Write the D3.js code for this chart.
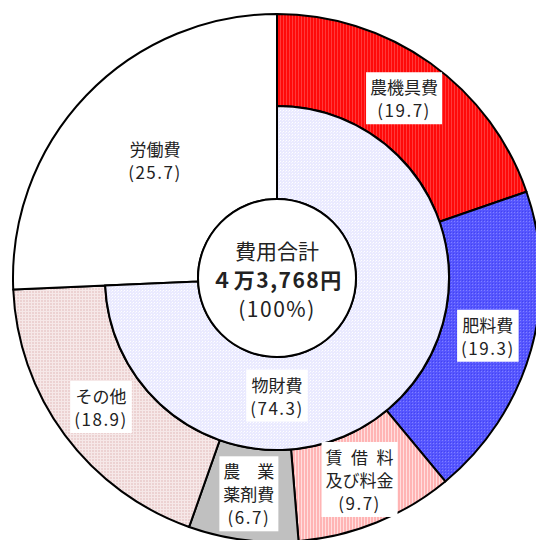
<!DOCTYPE html>
<html>
<head>
<meta charset="utf-8">
<script src="https://cdn.jsdelivr.net/npm/d3@7"></script>
<style>
  body { margin: 0; background: #fff; }
  svg { display: block; }
  text { font-family: "Noto Sans CJK JP", "Noto Sans", sans-serif; fill: #222; }
</style>
</head>
<body>
<script>
// outer ring: breakdown of costs (%)
var categories = ["農機具費", "肥料費", "賃借料及び料金", "農業薬剤費", "その他", "労働費"];
var values = [19.7, 19.3, 9.7, 6.7, 18.9, 25.7];
var labelLines = [
  ["農機具費", "(19.7)"],
  ["肥料費", "(19.3)"],
  ["賃借料", "及び料金", "(9.7)"],
  ["農業", "薬剤費", "(6.7)"],
  ["その他", "(18.9)"],
  ["労働費", "(25.7)"]
];
// inner ring
var innerCategories = ["物財費", "労働費"];
var innerValues = [74.3, 25.7];
// centre
var centerLines = ["費用合計", "４万3,768円", "(100%)"];

var W = 536, H = 540;
var cx = 277, cy = 278;
var rOuter = 264, rMid = 172, rInner = 79;

var svg = d3.select("body").append("svg")
    .attr("width", W)
    .attr("height", H);

// fill textures
var defs = svg.append("defs");
function pattern(id, base, dots) {
  var p = defs.append("pattern")
      .attr("id", id)
      .attr("patternUnits", "userSpaceOnUse")
      .attr("width", 3).attr("height", 3);
  p.append("rect").attr("width", 3).attr("height", 3).attr("fill", base);
  dots.forEach(function(d) {
    p.append("rect").attr("x", d[0]).attr("y", d[1])
      .attr("width", d[2]).attr("height", d[3]).attr("fill", d[4]);
  });
}
pattern("pRed", "#ff0a0a", [[0, 0, 1, 3, "#ff3a3a"]]);
pattern("pBlue", "#5656ff", [[0, 0, 1, 1, "#8080ff"], [2, 2, 1, 1, "#4444f0"]]);
pattern("pPink", "#ffb4b4", [[0, 0, 1, 3, "#ffdede"]]);
pattern("pGray", "#c0c0c0", []);
pattern("pOther", "#ecd2d2", [[0, 0, 3, 1, "#f6e8e8"], [0, 0, 1, 3, "#f6e8e8"]]);
pattern("pMat", "#eaeaff", [[0, 0, 1, 1, "#ffffff"], [2, 1, 1, 1, "#f6f6ff"]]);

var fills = ["url(#pRed)", "url(#pBlue)", "url(#pPink)", "url(#pGray)", "url(#pOther)", "#ffffff"];

var g = svg.append("g").attr("transform", "translate(" + cx + "," + cy + ")");

var pie = d3.pie().sort(null).value(function(d) { return d; });
var outerArcs = pie(values);
var innerArcs = pie(innerValues);

var arcFor = function(d, i) {
  // labour cost fills both rings
  var ir = categories[i] === "労働費" ? rInner : rMid;
  return d3.arc().innerRadius(ir).outerRadius(rOuter)(d);
};

g.selectAll("path.outer")
  .data(outerArcs)
  .enter()
  .append("path")
    .attr("class", "outer")
    .attr("d", arcFor)
    .attr("fill", function(d, i) { return fills[i]; })
    .attr("stroke", "#000")
    .attr("stroke-width", 2)
    .attr("stroke-linejoin", "round");

// inner ring: material costs
var innerArc = d3.arc().innerRadius(rInner).outerRadius(rMid);
g.append("path")
    .attr("d", innerArc(innerArcs[0]))
    .attr("fill", "url(#pMat)")
    .attr("stroke", "#000")
    .attr("stroke-width", 2);

// centre circle
g.append("circle")
    .attr("r", rInner)
    .attr("fill", "#fff")
    .attr("stroke", "#000")
    .attr("stroke-width", 2);

var lineH = 23;
function drawLabel(lines, x, y, boxed) {
  var lg = g.append("g").attr("transform", "translate(" + x + "," + y + ")");
  var y0 = -(lines.length - 1) * lineH / 2;
  var t = lg.append("text")
      .attr("text-anchor", "middle")
      .style("font-size", "17px");
  var maxChars = d3.max(lines, function(s) { return s.length; });
  lines.forEach(function(s, k) {
    var ts = t.append("tspan")
        .attr("x", 0)
        .attr("y", y0 + k * lineH)
        .attr("dy", "0.36em")
        .text(s);
    if (s.charAt(0) === "(") ts.style("letter-spacing", "1.5px");
    // short first line spread to the width of the next line
    if (k === 0 && lines.length === 3 && s.length < maxChars) {
      ts.attr("textLength", lines[1].length * 17).attr("lengthAdjust", "spacing");
    }
  });
  if (boxed) {
    var bb = t.node().getBBox();
    lg.insert("rect", "text")
      .attr("x", bb.x - 4)
      .attr("y", bb.y - 2)
      .attr("width", bb.width + 8)
      .attr("height", bb.height + 4)
      .attr("fill", "#fff");
  }
}

var labelArc = d3.arc().innerRadius(174).outerRadius(264);
var labourArc = d3.arc().innerRadius(rInner).outerRadius(259);
outerArcs.forEach(function(d, i) {
  var isLabour = categories[i] === "労働費";
  var c = isLabour ? labourArc.centroid(d) : labelArc.centroid(d);
  drawLabel(labelLines[i], c[0], c[1], !isLabour);
});

// material cost label sits at the bottom of the inner ring
var matAngle = Math.PI;
var matR = 119;
drawLabel([innerCategories[0], "(" + innerValues[0] + ")"],
  matR * Math.sin(matAngle), -matR * Math.cos(matAngle), true);

// centre text
var ct = g.append("text").attr("text-anchor", "middle");
centerLines.forEach(function(s, k) {
  ct.append("tspan")
    .attr("x", 0)
    .attr("y", (k - 1) * 29 + 2)
    .attr("dy", "0.36em")
    .style("font-size", "21px")
    .style("letter-spacing", k === 0 ? "0px" : "1.5px")
    .style("font-weight", k === 1 ? "bold" : "normal")
    .text(s);
});
</script>
</body>
</html>
